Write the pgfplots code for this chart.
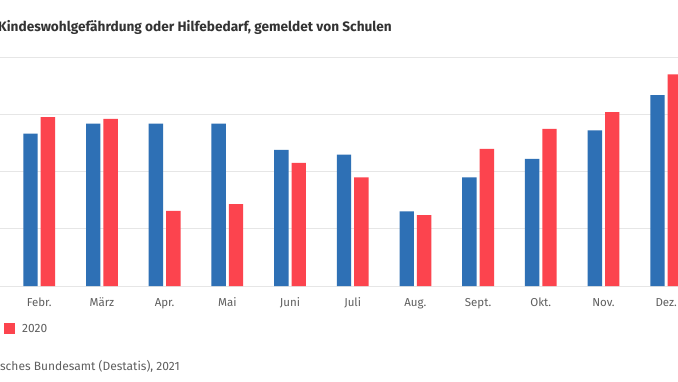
\documentclass[border=0pt]{standalone}
\usepackage{pgfplots}
\pgfplotsset{compat=1.18}
\usepackage{fontspec}
\setmainfont{Fira Sans}
\definecolor{cblue}{RGB}{46,112,181}
\definecolor{cred}{RGB}{252,68,78}
\definecolor{gridc}{RGB}{230,230,230}
\definecolor{lab}{RGB}{95,95,95}
\definecolor{ttl}{RGB}{51,51,51}
\begin{document}
\begin{tikzpicture}[x=1pt,y=1pt]
\useasboundingbox (0,0) rectangle (678,381);
\clip (0,0) rectangle (678,381);
\fill[white] (0,0) rectangle (678,381);
\begin{axis}[
  at={(-86.2pt,95pt)}, anchor=south west,
  scale only axis, width=815.1pt, height=228.7pt,
  xmin=-1, xmax=12, ymin=0, ymax=2000,
  axis line style={draw=none},
  tick style={draw=none}, major tick length=0pt,
  ybar=3pt, bar width=14.4pt,
  xtick={1,...,11},
  xticklabels={Febr.,März,Apr.,Mai,Juni,Juli,Aug.,Sept.,Okt.,Nov.,Dez.},
  xticklabel style={anchor=base, yshift=-20pt, font=\fontsize{11.5}{13}\selectfont, text=lab},
  ytick={0,500,1000,1500,2000},
  yticklabel=\empty,
  ymajorgrids, grid style={draw=gridc, line width=0.8pt},
  legend columns=2,
  legend style={draw=none, fill=none, at={(0.1701,-0.1880)}, anchor=east,
    font=\fontsize{12}{14}\selectfont, text=lab,
    /tikz/every odd column/.append style={column sep=5pt},
    /tikz/every even column/.append style={column sep=8pt}},
  legend image code/.code={\draw[#1, draw=none] (0pt,-5.5pt) rectangle (11pt,5.5pt);},
]
\addplot[fill=cblue, draw=none] coordinates {(1,1333) (2,1421) (3,1421) (4,1421) (5,1190) (6,1149) (7,652) (8,950) (9,1111) (10,1360) (11,1669)};
\addplot[fill=cred, draw=none] coordinates {(1,1476) (2,1462) (3,658) (4,717) (5,1076) (6,950) (7,620) (8,1199) (9,1375) (10,1520) (11,1851)};
\legend{2019,2020}
\end{axis}
\node[anchor=base west, font=\fontsize{13.65}{16}\selectfont\bfseries, text=ttl, inner sep=0pt] at (-2,349.5) {Kindeswohlgefährdung oder Hilfebedarf, gemeldet von Schulen};
\node[anchor=base east, font=\fontsize{12}{14}\selectfont, text=lab, inner sep=0pt] at (180,11) {Quelle: Statistisches Bundesamt (Destatis), 2021};
\end{tikzpicture}
\end{document}
